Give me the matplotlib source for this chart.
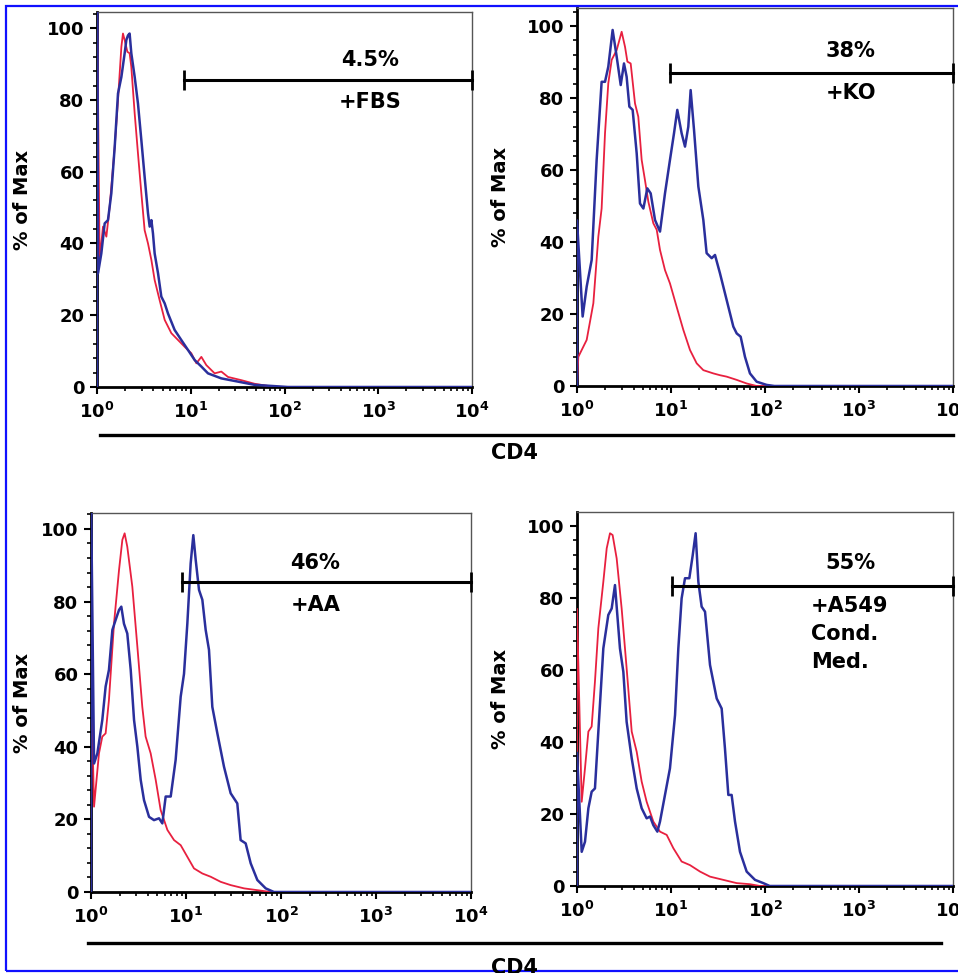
import numpy as np
import matplotlib
matplotlib.use('Agg')
import matplotlib.pyplot as plt
from matplotlib.ticker import MultipleLocator, LogLocator, NullFormatter
from matplotlib.lines import Line2D
from matplotlib.patches import Rectangle

# histogram traces: log10(CD4) and % of max
fbs_red_logx = [0, 0, 0.028, 0.064, 0.100, 0.135, 0.189, 0.224, 0.260, 0.277, 0.295, 0.324, 0.348, 0.366, 0.402,
                0.437, 0.473, 0.508, 0.544, 0.580, 0.615, 0.668, 0.722, 0.793, 0.864, 0.935, 1.006, 1.060, 1.113,
                1.166, 1.255, 1.326, 1.397, 1.540, 1.681, 1.824, 1.966, 4.0]
fbs_red_pct = [0, 110, 35.4, 44.7, 41.9, 50.2, 67, 80, 94.8, 98.5, 96.7, 93.4, 93, 89.2, 76.2, 65.1, 54, 43.7, 40,
               35.4, 29.8, 24.2, 18.7, 15, 13.1, 11.2, 9.4, 6.6, 8.4, 6.1, 3.8, 4.3, 2.8, 1.9, 0.9, 0.3, 0, 0]
fbs_blue_logx = [0, 0, 0.011, 0.046, 0.082, 0.117, 0.153, 0.189, 0.224, 0.260, 0.295, 0.313, 0.331, 0.348, 0.366,
                 0.402, 0.437, 0.473, 0.508, 0.544, 0.562, 0.580, 0.597, 0.615, 0.651, 0.686, 0.722, 0.757, 0.828,
                 0.899, 0.971, 1.042, 1.113, 1.184, 1.326, 1.504, 1.681, 1.859, 2.037, 4.0]
fbs_blue_pct = [0, 110, 31.7, 37.2, 45.6, 46.5, 54, 67, 81.8, 86.4, 93, 96.7, 98, 98.5, 93, 86.4, 79, 68.8, 58.6,
                48.4, 44.7, 46.5, 42.8, 37.2, 31.7, 25.2, 23.3, 20.5, 15.9, 13.1, 10.3, 7.5, 5.7, 3.8, 2.4, 1.5,
                0.6, 0.3, 0, 0]

ko_red_logx = [0, 0.014, 0.103, 0.174, 0.227, 0.262, 0.298, 0.333, 0.369, 0.422, 0.475, 0.511, 0.536, 0.571,
               0.617, 0.652, 0.688, 0.723, 0.759, 0.812, 0.848, 0.883, 0.936, 0.989, 1.060, 1.131, 1.202, 1.273,
               1.344, 1.450, 1.521, 1.592, 1.699, 1.805, 1.911, 4.0]
ko_red_pct = [0, 8.1, 12.8, 23, 41.5, 49.3, 70.2, 84.1, 90.6, 93.3, 98.4, 94.2, 90.1, 89.6, 78.5, 74.8, 62.8, 57.2,
              51.2, 45.2, 43.4, 37.8, 32.2, 28.5, 22, 15.6, 10, 6.3, 4.4, 3.5, 3, 2.6, 1.7, 0.7, 0, 0]
ko_blue_logx = [0, 0, 0.060, 0.103, 0.156, 0.209, 0.262, 0.298, 0.333, 0.379, 0.422, 0.465, 0.500, 0.528, 0.557,
                0.592, 0.635, 0.670, 0.706, 0.748, 0.784, 0.830, 0.883, 0.936, 0.989, 1.032, 1.067, 1.113, 1.149,
                1.184, 1.209, 1.245, 1.291, 1.344, 1.379, 1.433, 1.468, 1.521, 1.592, 1.663, 1.699, 1.741, 1.787,
                1.840, 1.911, 2.018, 2.1, 4.0]
ko_blue_pct = [0, 46, 19.3, 27.6, 35, 62.8, 84.5, 84.5, 88.7, 98.9, 91.5, 83.6, 89.6, 85.9, 77.6, 76.7, 64.6, 50.7,
               49.3, 54.9, 53.5, 46.1, 42.9, 53.5, 62.8, 70.2, 76.7, 70.2, 66.5, 72, 82.2, 71.1, 55.4, 46.1, 36.9,
               35.5, 36.4, 31.3, 23.9, 16.5, 14.6, 13.7, 8.1, 3.5, 1.2, 0.3, 0, 0]

aa_red_logx = [0, 0, 0.032, 0.084, 0.119, 0.154, 0.189, 0.242, 0.295, 0.330, 0.354, 0.382, 0.435, 0.488, 0.540,
               0.575, 0.628, 0.681, 0.733, 0.804, 0.874, 0.944, 1.014, 1.084, 1.172, 1.260, 1.365, 1.470, 1.611,
               1.751, 1.891, 4.0]
aa_red_pct = [0, 60, 23.5, 38.2, 42.8, 43.7, 52.9, 73.9, 88.7, 97, 98.8, 95.1, 84.1, 67.6, 51, 42.8, 38.2, 30.9,
              22.6, 17.1, 14.3, 12.9, 9.7, 6.5, 5.1, 4.2, 2.8, 1.9, 1, 0.5, 0, 0]
aa_blue_logx = [0, 0, 0.032, 0.067, 0.119, 0.154, 0.189, 0.225, 0.260, 0.295, 0.319, 0.347, 0.382, 0.418, 0.453,
                0.488, 0.523, 0.558, 0.611, 0.663, 0.716, 0.751, 0.786, 0.839, 0.891, 0.944, 0.979, 1.014, 1.049,
                1.077, 1.102, 1.137, 1.172, 1.207, 1.242, 1.277, 1.330, 1.400, 1.470, 1.540, 1.575, 1.628, 1.681,
                1.751, 1.839, 1.926, 4.0]
aa_blue_pct = [0, 110, 35.4, 38.2, 47.4, 56.6, 61.2, 72.2, 75, 77.7, 78.6, 73.9, 71.2, 61.2, 47.4, 40, 30.9, 25.3,
               20.7, 19.8, 20.3, 18.9, 26.3, 26.3, 36.4, 53.8, 60.1, 73.9, 90.5, 98.3, 91.5, 83.2, 80.5, 72.2,
               66.7, 51, 43.7, 34.5, 27.2, 24.4, 14.3, 13.4, 7.9, 3.3, 1, 0, 0]

a549_red_logx = [0, 0, 0.050, 0.085, 0.121, 0.156, 0.191, 0.227, 0.280, 0.316, 0.351, 0.379, 0.422, 0.475, 0.528,
                 0.582, 0.635, 0.688, 0.741, 0.812, 0.883, 0.954, 1.025, 1.113, 1.202, 1.309, 1.415, 1.557, 1.699,
                 1.840, 1.947, 4.0]
a549_red_pct = [0, 77, 23.4, 32.7, 42.9, 44.3, 56.8, 71.6, 84.5, 93.8, 98, 97.5, 91, 77.1, 60.5, 42.9, 37.3, 29,
                23.4, 17.9, 15.1, 14.2, 10.5, 6.8, 5.8, 4, 2.6, 1.7, 0.8, 0.5, 0, 0]
a549_blue_logx = [0, 0, 0.050, 0.085, 0.121, 0.156, 0.191, 0.227, 0.280, 0.333, 0.369, 0.404, 0.429, 0.457, 0.493,
                  0.528, 0.582, 0.635, 0.688, 0.741, 0.777, 0.812, 0.855, 0.883, 0.936, 0.989, 1.043, 1.078, 1.113,
                  1.149, 1.195, 1.231, 1.262, 1.291, 1.326, 1.362, 1.415, 1.486, 1.539, 1.574, 1.610, 1.645, 1.681,
                  1.734, 1.805, 1.894, 1.982, 2.05, 4.0]
a549_blue_pct = [0, 37, 9.5, 12.3, 21.6, 26.2, 27.1, 42.9, 66, 75.3, 77.1, 83.6, 75.3, 66, 59.5, 45.6, 35.5, 27.1,
                 21.6, 18.8, 19.3, 16.9, 15.1, 17.9, 25.3, 32.7, 47.5, 66, 79.9, 85.5, 85.5, 91.9, 98, 84.5, 77.6,
                 76.2, 61.4, 52.1, 49.3, 38.2, 25.3, 25.3, 17.9, 9.5, 4, 1.7, 0.8, 0, 0]

# gates: start CD4, height, and the labels
gate_start = [8.5, 9.8, 9.1, 10.2]
gate_level = [85.5, 87, 85.4, 83.3]
gate_pct = ['4.5%', '38%', '46%', '55%']
condition = ['+FBS', '+KO', '+AA', '+A549\nCond.\nMed.']

RED = '#e8203f'
BLUE = '#2a2f9c'

plt.rcParams['font.family'] = 'DejaVu Sans'
plt.rcParams['font.weight'] = 'bold'
plt.rcParams['mathtext.default'] = 'bf'


def draw_panel(fig, rect, ymax, red, blue, k, pct_xy, cond_xy, cond_ha, ylab_x):
    ax = fig.add_axes(rect)
    ax.plot(10 ** np.array(red[0]), red[1], color=RED, lw=1.3, zorder=3)
    ax.plot(10 ** np.array(blue[0]), blue[1], color=BLUE, lw=1.8, zorder=4)
    ax.set_xscale('log')
    ax.set_xlim(1, 1e4)
    ax.set_ylim(0, ymax)
    ax.set_xticks([1, 10, 100, 1000, 10000])
    ax.set_xticklabels([r'$10^{%d}$' % i for i in range(5)])
    ax.xaxis.set_minor_locator(LogLocator(subs=np.arange(2, 10)))
    ax.xaxis.set_minor_formatter(NullFormatter())
    ax.set_yticks([0, 20, 40, 60, 80, 100])
    ax.yaxis.set_minor_locator(MultipleLocator(4))
    ax.tick_params(which='major', length=5, width=1.5, labelsize=13, pad=4)
    ax.tick_params(which='minor', length=3, width=1.2)
    ax.tick_params(axis='x', which='major', pad=6)
    for s in ['left', 'bottom']:
        ax.spines[s].set_linewidth(2)
    for s in ['top', 'right']:
        ax.spines[s].set_linewidth(1)
        ax.spines[s].set_color('#555555')
    ax.set_ylabel('% of Max', fontsize=14, fontweight='bold')
    ax.yaxis.set_label_coords(ylab_x, 0.5)

    # gate bar
    ax.plot([gate_start[k], 1e4], [gate_level[k]] * 2, color='black', lw=2.2, clip_on=False,
            marker='|', markersize=14, mew=2, zorder=5)
    ax.text(pct_xy[0], pct_xy[1], gate_pct[k], fontsize=15, ha='center', va='center')
    ax.text(cond_xy[0], cond_xy[1], condition[k], fontsize=15, ha=cond_ha, va='top', linespacing=1.5)
    return ax


def main():
    W, H = 958.0, 973.0
    fig = plt.figure(figsize=(9.58, 9.73), dpi=100)

    def rect(l, r, t, b):
        return [l / W, 1 - b / H, (r - l) / W, (b - t) / H]

    draw_panel(fig, rect(97, 472, 12, 387), 104.5, (fbs_red_logx, fbs_red_pct), (fbs_blue_logx, fbs_blue_pct),
               0, (10 ** 2.91, 91), (10 ** 2.91, 82.3), 'center', -0.173)
    draw_panel(fig, rect(577, 953, 8, 386), 105, (ko_red_logx, ko_red_pct), (ko_blue_logx, ko_blue_pct),
               1, (10 ** 2.91, 93), (10 ** 2.91, 84.2), 'center', -0.178)
    draw_panel(fig, rect(91, 471, 513, 892), 104.4, (aa_red_logx, aa_red_pct), (aa_blue_logx, aa_blue_pct),
               2, (10 ** 2.36, 90.6), (10 ** 2.36, 81.8), 'center', -0.155)
    draw_panel(fig, rect(577, 953, 512, 886), 103.9, (a549_red_logx, a549_red_pct),
               (a549_blue_logx, a549_blue_pct), 3, (10 ** 2.91, 89.7), (10 ** 2.49, 80.6), 'left', -0.178)

    # shared CD4 axis bars
    fig.add_artist(Line2D([100 / W, 953 / W], [1 - 435 / H] * 2, color='black', lw=2.4))
    fig.add_artist(Line2D([88 / W, 941 / W], [1 - 943 / H] * 2, color='black', lw=2.4))
    fig.text(491 / W, 1 - 443 / H, 'CD4', fontsize=15, fontweight='bold', va='top')
    fig.text(491 / W, 1 - 958 / H, 'CD4', fontsize=15, fontweight='bold', va='top')

    # blue frame around the figure
    fig.add_artist(Rectangle((6 / W, 1 - 971 / H), 1.2, (971 - 6) / H, fill=False,
                             edgecolor='#1010ff', lw=1.6))

    fig.savefig('out.png', dpi=100)


if __name__ == "__main__":
    main()
